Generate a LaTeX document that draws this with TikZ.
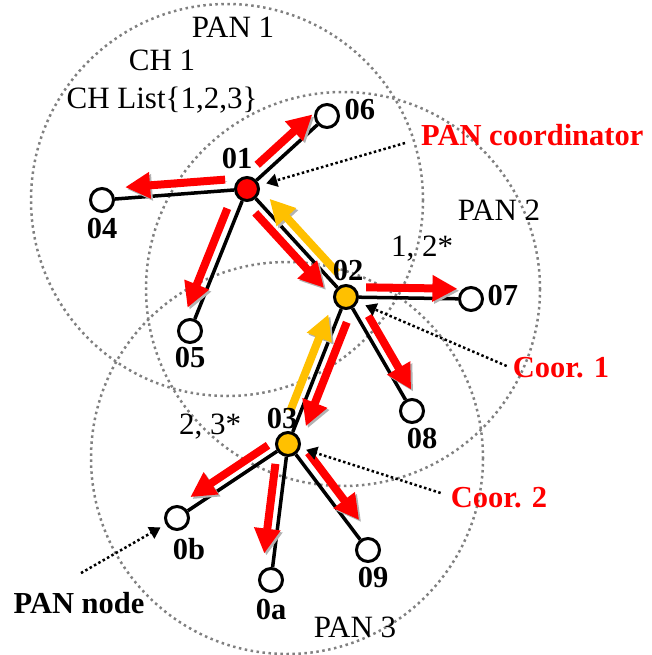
\documentclass[tikz,border=0pt]{standalone}
\usepackage{fontspec}
\setmainfont{Liberation Serif}
\usetikzlibrary{positioning,calc,arrows.meta}
\definecolor{coorgold}{RGB}{255,192,0}

\begin{document}
\begin{tikzpicture}[x=1pt, y=-1pt, nd/.style={circle, draw, line width=3pt, fill=white, minimum size=23pt, inner sep=0pt}, pc/.style={nd, fill=red}, co/.style={nd, fill=coorgold}, lab/.style={inner sep=0pt, font=\fontsize{30.5}{34}\selectfont\bfseries}, rtxt/.style={lab, text=red}, txt/.style={inner sep=0pt, font=\fontsize{31}{34}\selectfont}, area/.style={draw=black!50, line width=2.5pt, dash pattern=on 2.5pt off 3.5pt}, edg/.style={line width=3.5pt}, ptr/.style={line width=2.5pt, dash pattern=on 2.5pt off 2.5pt, -{Triangle[length=11pt,width=13pt]}}, shd/.style={preaction={draw=black!30, transform canvas={xshift=2pt,yshift=-2pt}}}, rarr/.style={shd, draw=red, line width=8pt, -{Triangle[length=25pt,width=25pt]}}, yarr/.style={rarr, draw=coorgold}]
		\useasboundingbox (0,0) rectangle (652,655);
		% PAN areas
		\draw[area] (227,200) circle[radius=196];
		\draw[area] (343,289) circle[radius=197];
		\draw[area] (287,458) circle[radius=196];

		\node[pc] (n01) at (247,189) {};
		\node[co] (n02) at (346,297) {};
		\node[co] (n03) at (288,444) {};
		\node[nd] (n04) at (102,200) {};
		\node[nd] (n05) at (190,331) {};
		\node[nd] (n06) at (327,116) {};
		\node[nd] (n07) at (471,299) {};
		\node[nd] (n08) at (412,411) {};
		\node[nd] (n09) at (368,550) {};
		\node[nd] (n0a) at (271,580) {};
		\node[nd] (n0b) at (177,518) {};

		\path[edg] (n01) edge (n04);
		\path[edg] (n01) edge (n05);
		\path[edg] (n01) edge (n06);
		\path[edg] (n01) edge (n02);
		\path[edg] (n02) edge (n07);
		\path[edg] (n02) edge (n08);
		\path[edg] (n02) edge (n03);
		\path[edg] (n03) edge (n0b);
		\path[edg] (n03) edge (n0a);
		\path[edg] (n03) edge (n09);

		% data flow
		\draw[rarr] ($(n01)!.22!(n06)!11pt!90:(n06)$) -- ($(n01)!.91!(n06)!11pt!90:(n06)$);
		\draw[rarr] ($(n01)!.145!(n04)!11pt!-90:(n04)$) -- ($(n01)!.835!(n04)!11pt!-90:(n04)$);
		\draw[rarr] ($(n01)!.166!(n05)!11pt!-90:(n05)$) -- ($(n01)!.865!(n05)!11pt!-90:(n05)$);
		\draw[rarr] ($(n01)!.158!(n02)!10pt!-90:(n02)$) -- ($(n01)!.853!(n02)!10pt!-90:(n02)$);
		\draw[yarr] ($(n02)!.163!(n01)!10pt!-90:(n01)$) -- ($(n02)!.847!(n01)!10pt!-90:(n01)$);
		\draw[rarr] ($(n02)!.16!(n07)!10pt!90:(n07)$) -- ($(n02)!.89!(n07)!10pt!90:(n07)$);
		\draw[rarr] ($(n02)!.21!(n08)!10pt!90:(n08)$) -- ($(n02)!.856!(n08)!10pt!90:(n08)$);
		\draw[rarr] ($(n02)!.147!(n03)!10pt!90:(n03)$) -- ($(n02)!.854!(n03)!10pt!90:(n03)$);
		\draw[yarr] ($(n03)!.2!(n02)!10pt!90:(n02)$) -- ($(n03)!.857!(n02)!10pt!90:(n02)$);
		\draw[rarr] ($(n03)!.13!(n0b)!10pt!-90:(n0b)$) -- ($(n03)!.83!(n0b)!10pt!-90:(n0b)$);
		\draw[rarr] ($(n03)!.155!(n0a)!10pt!-90:(n0a)$) -- ($(n03)!.815!(n0a)!10pt!-90:(n0a)$);
		\draw[rarr] ($(n03)!.145!(n09)!11pt!90:(n09)$) -- ($(n03)!.78!(n09)!11pt!90:(n09)$);

		\node[lab, above=7pt of n01, xshift=-10pt] (n01_label) {01};
		\node[lab, above=3pt of n02, xshift=2pt] (n02_label) {02};
		\node[lab, above=2.5pt of n03, xshift=-6pt] (n03_label) {03};
		\node[lab, below=5.5pt of n04] (n04_label) {04};
		\node[lab, below=3.5pt of n05] (n05_label) {05};
		\node[lab, right=4.5pt of n06, yshift=6pt] (n06_label) {06};
		\node[lab, right=3.5pt of n07, yshift=3pt] (n07_label) {07};
		\node[lab, below=4.5pt of n08, xshift=10pt] (n08_label) {08};
		\node[lab, below=4.5pt of n09, xshift=5pt] (n09_label) {09};
		\node[lab, below=6.5pt of n0a] (n0a_label) {0a};
		\node[lab, below=7.5pt of n0b, xshift=12pt] (n0b_label) {0b};

		\node[txt] (pan1) at (233,27) {PAN 1};
		\node[txt] (ch1) at (162,60) {CH 1};
		\node[txt] (chlist) at (162,100) {CH List\{1,2,3\}};
		\node[txt] (pan2) at (499,210) {PAN 2};
		\node[txt] (hop12) at (422,249) {1, 2*};
		\node[txt] (hop23) at (210,427) {2, 3*};
		\node[txt] (pan3) at (355,627) {PAN 3};
		\node[rtxt, anchor=west] (pancoord) at (421,135) {PAN coordinator};
		\node[rtxt] (coor1) at (561,368) {Coor. 1};
		\node[rtxt] (coor2) at (499,498) {Coor. 2};
		\node[lab] (pannode) at (79,603) {PAN node};

		\draw[ptr, shorten >=7pt] ([xshift=-16pt,yshift=-8pt]pancoord.west) -- (n01);
		\draw[ptr, shorten >=8pt] ([xshift=-6pt,yshift=2pt]coor1.west) -- (n02);
		\draw[ptr, shorten >=6pt] ([xshift=-10pt,yshift=5pt]coor2.west) -- (n03);
		\draw[ptr, shorten >=6pt] ([xshift=2pt,yshift=19pt]pannode.north) -- (n0b);
	\end{tikzpicture}
\end{document}
